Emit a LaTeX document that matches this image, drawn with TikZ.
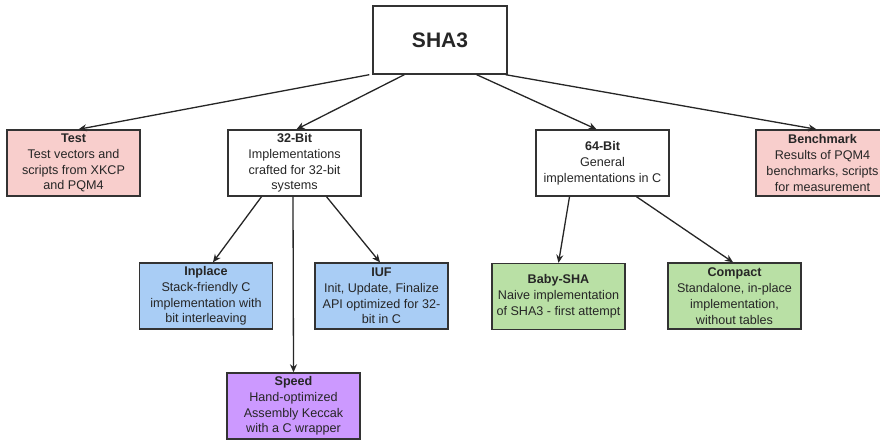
\documentclass[tikz,border=0pt]{standalone}
\usepackage{fontspec}
\setmainfont{Liberation Sans}
\usetikzlibrary{arrows.meta,calc}
\definecolor{pinkfill}{HTML}{F8CECC}
\definecolor{bluefill}{HTML}{A9CDF5}
\definecolor{greenfill}{HTML}{B9E0A5}
\definecolor{purplefill}{HTML}{CC99FF}
\definecolor{edgegray}{HTML}{333333}
\begin{document}
\begin{tikzpicture}[x=1pt,y=-1pt,
  box/.style={draw=edgegray,line width=1.4pt,minimum width=133pt,minimum height=66pt,
    inner sep=1pt,align=center,font=\fontsize{12.6}{15.8}\selectfont,text=black!85},
  conn/.style={draw=black!85,line width=1.3pt,-{Stealth[length=8pt,width=7pt]}}]
\useasboundingbox[fill=white] (0,0) rectangle (880,439);
\node[box,minimum width=134pt,minimum height=68pt,font=\bfseries\fontsize{21}{24}\selectfont] (sha) at (440,40) {SHA3};
\node[box,fill=pinkfill] (test) at (73.5,163) {\textbf{Test}\\Test vectors and\\scripts from XKCP\\and PQM4};
\node[box] (b32) at (294.5,163) {\textbf{32-Bit}\\Implementations\\crafted for 32-bit\\systems};
\node[box] (b64) at (602.5,163) {\textbf{64-Bit}\\General\\implementations in C};
\node[box,fill=pinkfill] (bench) at (822.5,163) {\textbf{Benchmark}\\Results of PQM4\\benchmarks, scripts\\for measurement};
\node[box,fill=bluefill] (inplace) at (206,296) {\textbf{Inplace}\\Stack-friendly C\\implementation with\\bit interleaving};
\node[box,fill=bluefill] (iuf) at (381.5,296) {\textbf{IUF}\\Init, Update, Finalize\\API optimized for 32-\\bit in C};
\node[box,fill=greenfill] (baby) at (558.5,296.5) {\textbf{Baby-SHA}\\Naive implementation\\of SHA3 - first attempt};
\node[box,fill=greenfill] (compact) at (734.5,296) {\textbf{Compact}\\Standalone, in-place\\implementation,\\without tables};
\node[box,fill=purplefill] (speed) at (293.5,406) {\textbf{Speed}\\Hand-optimized\\Assembly Keccak\\with a C wrapper};
\draw[conn] ([xshift=-3pt]sha.south west) -- ([xshift=5pt]test.north);
\draw[conn] ([xshift=32pt]sha.south west) -- ([xshift=2pt]b32.north);
\draw[conn] ([xshift=-31pt]sha.south east) -- ([xshift=-6pt]b64.north);
\draw[conn] ([xshift=-2pt]sha.south east) -- ([xshift=-6pt]bench.north);
\draw[conn] ([xshift=-33pt]b32.south) -- ([xshift=7pt]inplace.north);
\draw[conn] ([xshift=-1.5pt]b32.south) -- (speed.north);
\draw[conn] ([xshift=32pt]b32.south) -- ([xshift=-1.5pt]iuf.north);
\draw[conn] ([xshift=-33pt]b64.south) -- (baby.north);
\draw[conn] ([xshift=34pt]b64.south) -- ([xshift=-1.5pt]compact.north);
\end{tikzpicture}
\end{document}
